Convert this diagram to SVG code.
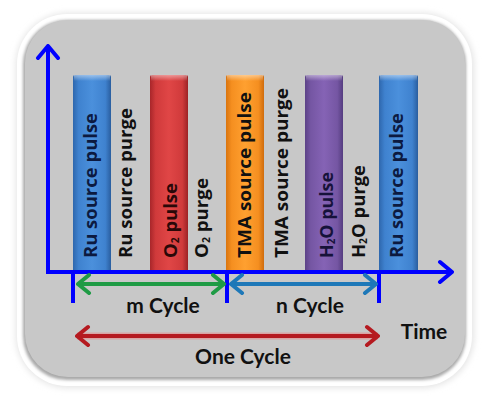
<svg xmlns="http://www.w3.org/2000/svg" width="489" height="404" viewBox="0 0 489 404">
<defs>
<style>
.bt{font-family:"Open Sans",Lato,"Liberation Sans",sans-serif;font-weight:700;font-size:18px;fill:#111111}
.nv{fill:#0c1a40}
.rd{fill:#2a0808}
.pu{fill:#16123a}
.lb{font-family:Lato,"Open Sans","Liberation Sans",sans-serif;font-weight:700;font-size:21px;fill:#111111}
.sub{font-size:10px}
.axis{stroke:#0000ff;stroke-width:4;fill:none}
.tick{stroke:#0000ff;stroke-width:4}
</style>
<filter id="soft" x="-10%" y="-10%" width="120%" height="120%"><feGaussianBlur stdDeviation="3"/></filter>
<filter id="sh" x="-10%" y="-10%" width="130%" height="130%"><feGaussianBlur stdDeviation="1.5"/></filter>
<linearGradient id="gBlue" x1="0" x2="1" y1="0" y2="0"><stop offset="0" stop-color="#2e67ad"/><stop offset="0.15" stop-color="#3f82cf"/><stop offset="0.5" stop-color="#4b90dc"/><stop offset="0.85" stop-color="#3f82cf"/><stop offset="1" stop-color="#2a5e9f"/></linearGradient>
<linearGradient id="gRed" x1="0" x2="1" y1="0" y2="0"><stop offset="0" stop-color="#a8262a"/><stop offset="0.15" stop-color="#d03a3b"/><stop offset="0.5" stop-color="#e04646"/><stop offset="0.85" stop-color="#d03a3b"/><stop offset="1" stop-color="#9c2225"/></linearGradient>
<linearGradient id="gOrange" x1="0" x2="1" y1="0" y2="0"><stop offset="0" stop-color="#d9740f"/><stop offset="0.15" stop-color="#f58f20"/><stop offset="0.5" stop-color="#ffa030"/><stop offset="0.85" stop-color="#f58f20"/><stop offset="1" stop-color="#cf6c0d"/></linearGradient>
<linearGradient id="gPurple" x1="0" x2="1" y1="0" y2="0"><stop offset="0" stop-color="#5c4287"/><stop offset="0.15" stop-color="#7556a3"/><stop offset="0.5" stop-color="#8563b5"/><stop offset="0.85" stop-color="#7556a3"/><stop offset="1" stop-color="#553d80"/></linearGradient>
<linearGradient id="bevel" x1="0" x2="0" y1="0" y2="1"><stop offset="0" stop-color="#fff" stop-opacity="0.45"/><stop offset="1" stop-color="#fff" stop-opacity="0"/></linearGradient>
<marker id="mG" viewBox="-14 -12 16 24" refX="0" refY="0" markerWidth="16" markerHeight="24" markerUnits="userSpaceOnUse" orient="auto-start-reverse"><path d="M-11,-9 L0,0 L-11,9" fill="none" stroke="#1f9b45" stroke-width="4" stroke-linecap="round" stroke-linejoin="round"/></marker>
<marker id="mB" viewBox="-14 -12 16 24" refX="0" refY="0" markerWidth="16" markerHeight="24" markerUnits="userSpaceOnUse" orient="auto-start-reverse"><path d="M-11,-9 L0,0 L-11,9" fill="none" stroke="#1e78b8" stroke-width="4" stroke-linecap="round" stroke-linejoin="round"/></marker>
<marker id="mR" viewBox="-14 -12 16 24" refX="0" refY="0" markerWidth="16" markerHeight="24" markerUnits="userSpaceOnUse" orient="auto-start-reverse"><path d="M-11,-9 L0,0 L-11,9" fill="none" stroke="#b51a20" stroke-width="4" stroke-linecap="round" stroke-linejoin="round"/></marker>
<marker id="mAx" viewBox="-16 -13 18 26" refX="0" refY="0" markerWidth="18" markerHeight="26" markerUnits="userSpaceOnUse" orient="auto"><path d="M-12,-10 L0,0 L-12,10" fill="none" stroke="#0000ff" stroke-width="4" stroke-linecap="round" stroke-linejoin="round"/></marker>
</defs>
<rect width="489" height="404" fill="#ffffff"/>
<g id="frame">
<rect x="16" y="13" width="458" height="375" rx="52" fill="#e4e4e4" filter="url(#soft)"/>
<rect x="17" y="14" width="455" height="372" rx="50" fill="#ffffff"/>
<rect x="23" y="20" width="443" height="360" rx="44" fill="#a9a9a9" filter="url(#sh)"/>
<rect x="25" y="20" width="440" height="357" rx="43" fill="#c8c8c8"/>
</g>
<g id="bars">
<g id="bar-ru1"><rect x="73" y="75" width="38" height="198" rx="2" fill="url(#gBlue)"/><rect x="74" y="75" width="36" height="6" fill="url(#bevel)"/></g>
<g id="bar-o2"><rect x="150" y="75" width="38" height="198" rx="2" fill="url(#gRed)"/><rect x="151" y="75" width="36" height="6" fill="url(#bevel)"/></g>
<g id="bar-tma"><rect x="226" y="75" width="38" height="198" rx="2" fill="url(#gOrange)"/><rect x="227" y="75" width="36" height="6" fill="url(#bevel)"/></g>
<g id="bar-h2o"><rect x="305" y="75" width="38" height="198" rx="2" fill="url(#gPurple)"/><rect x="306" y="75" width="36" height="6" fill="url(#bevel)"/></g>
<g id="bar-ru2"><rect x="379" y="75" width="39" height="198" rx="2" fill="url(#gBlue)"/><rect x="380" y="75" width="37" height="6" fill="url(#bevel)"/></g>
</g>
<g id="labels">
<text class="bt nv" transform="translate(97,258) rotate(-90)" textLength="145" lengthAdjust="spacingAndGlyphs">Ru source pulse</text>
<text class="bt" transform="translate(132,258) rotate(-90)" textLength="150" lengthAdjust="spacingAndGlyphs">Ru source purge</text>
<text class="bt rd" transform="translate(177,258) rotate(-90)" textLength="75" lengthAdjust="spacingAndGlyphs">O<tspan class="sub" dy="2">2</tspan><tspan dy="-2"> pulse</tspan></text>
<text class="bt" transform="translate(208,258) rotate(-90)" textLength="80" lengthAdjust="spacingAndGlyphs">O<tspan class="sub" dy="2">2</tspan><tspan dy="-2"> purge</tspan></text>
<text class="bt" transform="translate(251,258) rotate(-90)" textLength="166" lengthAdjust="spacingAndGlyphs">TMA source pulse</text>
<text class="bt" transform="translate(288,258) rotate(-90)" textLength="170" lengthAdjust="spacingAndGlyphs">TMA source purge</text>
<text class="bt pu" transform="translate(333,258) rotate(-90)" textLength="86" lengthAdjust="spacingAndGlyphs">H<tspan class="sub" dy="2">2</tspan><tspan dy="-2">O pulse</tspan></text>
<text class="bt" transform="translate(365,258) rotate(-90)" textLength="93" lengthAdjust="spacingAndGlyphs">H<tspan class="sub" dy="2">2</tspan><tspan dy="-2">O purge</tspan></text>
<text class="bt nv" transform="translate(403,258) rotate(-90)" textLength="145" lengthAdjust="spacingAndGlyphs">Ru source pulse</text>
</g>
<g id="connectors">
<path class="axis" d="M48,272 V46" marker-end="url(#mAx)"/>
<path class="axis" d="M46,272 H452" marker-end="url(#mAx)"/>
<line class="tick" x1="73" y1="270" x2="73" y2="303"/>
<line class="tick" x1="227" y1="270" x2="227" y2="303"/>
<line class="tick" x1="379" y1="270" x2="379" y2="303"/>
<path d="M78,284 H224" stroke="#1f9b45" stroke-width="4" fill="none" marker-start="url(#mG)" marker-end="url(#mG)"/>
<path d="M231,284 H376" stroke="#1e78b8" stroke-width="4" fill="none" marker-start="url(#mB)" marker-end="url(#mB)"/>
<path d="M77,336 H378" stroke="#e58c8c" stroke-width="7" fill="none" opacity="0.6"/>
<path d="M77,336 H378" stroke="#b51a20" stroke-width="4" fill="none" marker-start="url(#mR)" marker-end="url(#mR)"/>
</g>
<g id="texts">
<text class="lb" x="163" y="313" text-anchor="middle">m Cycle</text>
<text class="lb" x="310" y="313" text-anchor="middle">n Cycle</text>
<text class="lb" x="424" y="339" text-anchor="middle">Time</text>
<text class="lb" x="243" y="364" text-anchor="middle">One Cycle</text>
</g>
</svg>
